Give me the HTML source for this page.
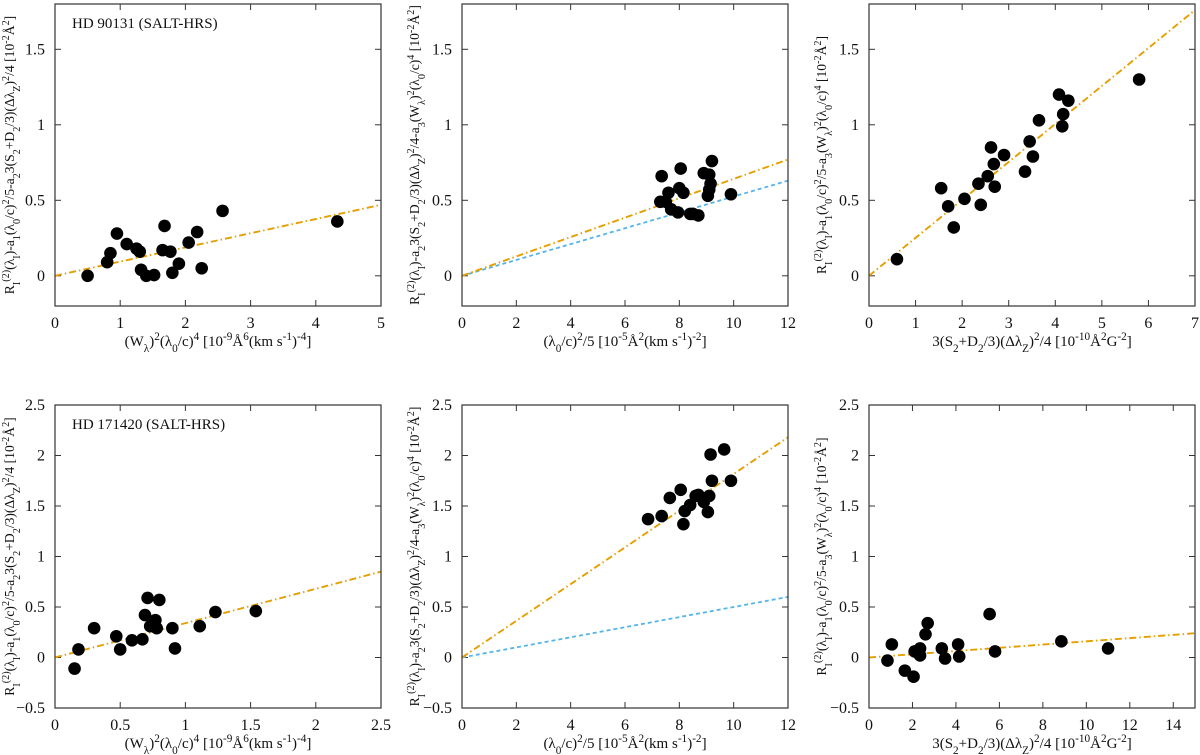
<!DOCTYPE html>
<html><head><meta charset="utf-8"><style>
html,body{margin:0;padding:0;background:#fff;}
svg{display:block;font-family:"Liberation Serif",serif;}
</style></head><body>
<svg id="fig" width="1200" height="755" viewBox="0 0 1200 755" xmlns="http://www.w3.org/2000/svg"></svg>
<script>
// ---- data ----
const p1X=[0.5,0.8,0.85,0.95,1.1,1.25,1.3,1.32,1.4,1.52,1.65,1.68,1.77,1.8,1.9,2.05,2.18,2.25,2.57,4.33];
const p1Y=[0,0.09,0.15,0.28,0.21,0.18,0.16,0.04,0,0.005,0.17,0.33,0.16,0.02,0.08,0.22,0.29,0.05,0.43,0.36];
const p2X=[7.3,7.35,7.5,7.6,7.7,7.95,8.0,8.05,8.15,8.4,8.5,8.7,8.9,9.1,9.05,9.1,9.15,9.2,9.9];
const p2Y=[0.49,0.66,0.49,0.55,0.44,0.42,0.58,0.71,0.55,0.41,0.41,0.4,0.68,0.67,0.53,0.57,0.61,0.76,0.54];
const p3X=[0.6,1.55,1.7,1.82,2.05,2.35,2.4,2.55,2.62,2.68,2.7,2.9,3.35,3.45,3.52,3.65,4.08,4.15,4.17,4.28,5.8];
const p3Y=[0.11,0.58,0.46,0.32,0.51,0.61,0.47,0.66,0.85,0.74,0.59,0.8,0.69,0.89,0.79,1.03,1.2,0.99,1.07,1.16,1.3];
const p4X=[0.15,0.18,0.3,0.47,0.5,0.59,0.67,0.69,0.71,0.73,0.77,0.78,0.8,0.9,0.92,1.11,1.23,1.54];
const p4Y=[-0.11,0.08,0.29,0.21,0.08,0.17,0.18,0.42,0.59,0.31,0.37,0.29,0.57,0.29,0.09,0.31,0.45,0.46];
const p5X=[6.85,7.35,7.65,8.05,8.15,8.2,8.4,8.6,8.7,8.9,9.05,9.1,9.15,9.2,9.65,9.9];
const p5Y=[1.37,1.4,1.58,1.66,1.32,1.45,1.51,1.6,1.61,1.54,1.44,1.6,2.01,1.75,2.06,1.75];
const p6X=[0.85,1.05,1.65,2.05,2.1,2.35,2.35,2.6,2.7,3.35,3.5,4.1,4.15,5.55,5.8,8.85,11.0];
const p6Y=[-0.03,0.13,-0.13,-0.19,0.06,0.09,0.02,0.23,0.34,0.09,-0.01,0.13,0.01,0.43,0.06,0.16,0.09];
const fitSlopes=[0.094,0.0642,0.2514,0.34,0.1817,0.016];
const blueSlopes=[null,0.0525,null,null,0.05,null];
const xTicksTop1=[0,1,2,3,4,5], xTicksTop2=[0,2,4,6,8,10,12], xTicksTop3=[0,1,2,3,4,5,6,7];
const xTicksBot1=[0,0.5,1,1.5,2,2.5], xTicksBot2=[0,2,4,6,8,10,12], xTicksBot3=[0,2,4,6,8,10,12,14];
const yTicksTop=[0,0.5,1,1.5], yTicksBot=[-0.5,0,0.5,1,1.5,2,2.5];

const NS="http://www.w3.org/2000/svg";
const svg=document.getElementById('fig');
function mk(tag,attrs,parent){const e=document.createElementNS(NS,tag);for(const k in attrs)e.setAttribute(k,attrs[k]);(parent||svg).appendChild(e);return e;}
function fmt(v){return (v<0?'\u2212':'')+String(Math.abs(v));}

const sub=s=>`<tspan baseline-shift="sub" font-size="75%">${s}</tspan>`;
const sup=s=>`<tspan baseline-shift="super" font-size="75%">${s}</tspan>`;
const lamI='\u03bb'+sub('I'), lam0='\u03bb'+sub('0'), Wl='W'+sub('\u03bb');
const R='R'+sub('I')+sup('(2)')+'('+lamI+')';
const ylabA=R+'-a'+sub('1')+'('+lam0+'/c)'+sup('2')+'/5-a'+sub('2')+'3(S'+sub('2')+'+D'+sub('2')+'/3)(\u0394\u03bb'+sub('Z')+')'+sup('2')+'/4 [10'+sup('-2')+'\u00c5'+sup('2')+']';
const ylabB=R+'-a'+sub('2')+'3(S'+sub('2')+'+D'+sub('2')+'/3)(\u0394\u03bb'+sub('Z')+')'+sup('2')+'/4-a'+sub('3')+'('+Wl+')'+sup('2')+'('+lam0+'/c)'+sup('4')+' [10'+sup('-2')+'\u00c5'+sup('2')+']';
const ylabC=R+'-a'+sub('1')+'('+lam0+'/c)'+sup('2')+'/5-a'+sub('3')+'('+Wl+')'+sup('2')+'('+lam0+'/c)'+sup('4')+' [10'+sup('-2')+'\u00c5'+sup('2')+']';
const xlabA='('+Wl+')'+sup('2')+'('+lam0+'/c)'+sup('4')+' [10'+sup('-9')+'\u00c5'+sup('6')+'(km s'+sup('-1')+')'+sup('-4')+']';
const xlabB='('+lam0+'/c)'+sup('2')+'/5 [10'+sup('-5')+'\u00c5'+sup('2')+'(km s'+sup('-1')+')'+sup('-2')+']';
const xlabC='3(S'+sub('2')+'+D'+sub('2')+'/3)(\u0394\u03bb'+sub('Z')+')'+sup('2')+'/4 [10'+sup('-10')+'\u00c5'+sup('2')+'G'+sup('-2')+']';

function panel(c){
  const g=mk('g',{});
  
  
  const sx=v=>c.L+(v-c.x0)/(c.x1-c.x0)*(c.R-c.L);
  const sy=v=>c.B-(v-c.y0)/(c.y1-c.y0)*(c.B-c.T);
  const clipId='clip-'+c.name;
  const cp=mk('clipPath',{id:clipId},g);
  mk('rect',{x:c.L,y:c.T,width:c.R-c.L,height:c.B-c.T},cp);
  c.xt.forEach(v=>{
    const x=sx(v);
    const t1=mk('line',{x1:x,x2:x,y1:c.B,y2:c.B-6,stroke:'#333','stroke-width':1},g);
    
    
    mk('line',{x1:x,x2:x,y1:c.T,y2:c.T+6,stroke:'#333','stroke-width':1},g);
    const tl=mk('text',{x:x,y:c.B+22,'text-anchor':'middle','font-size':16,fill:'#111'},g);
    tl.textContent=fmt(v);
    
    
  });
  c.yt.forEach(v=>{
    const y=sy(v);
    const t1=mk('line',{x1:c.L,x2:c.L+6,y1:y,y2:y,stroke:'#333','stroke-width':1},g);
    
    
    mk('line',{x1:c.R,x2:c.R-6,y1:y,y2:y,stroke:'#333','stroke-width':1},g);
    const tl=mk('text',{x:c.L-10,y:y+5,'text-anchor':'end','font-size':16,fill:'#111'},g);
    tl.textContent=fmt(v);
    
    
  });
  const pg=mk('g',{'clip-path':`url(#${clipId})`},g);
  if(c.blue!=null){
    const bl=mk('line',{x1:sx(0),y1:sy(0),x2:sx(c.x1),y2:sy(c.blue*c.x1),stroke:'#56b4e9','stroke-width':1.8,'stroke-dasharray':'4,3'},pg);
    
    
  }
  const fl=mk('line',{x1:sx(0),y1:sy(0),x2:sx(c.x1),y2:sy(c.slope*c.x1),stroke:'#e69f00','stroke-width':1.9,'stroke-dasharray':'7,3,1.5,3'},pg);
  
  
  c.X.forEach((xv,i)=>{
    const p=mk('circle',{cx:sx(xv),cy:sy(c.Y[i]),r:6.3,fill:'#000'},pg);
    
    
  });
  const fr=mk('rect',{x:c.L,y:c.T,width:c.R-c.L,height:c.B-c.T,fill:'none',stroke:'#333','stroke-width':1.2},g);
  
  
  const xl=mk('text',{x:(c.L+c.R)/2,y:c.B+40,'text-anchor':'middle','font-size':15,fill:'#111'},g);
  xl.innerHTML=c.xlab;
  
  
  const cy=(c.T+c.B)/2;
  const yl=mk('text',{x:0,y:0,'text-anchor':'middle','font-size':13.6,fill:'#111',transform:`translate(${c.ylx},${cy}) rotate(-90)`},g);
  yl.innerHTML=c.ylab;
  
  
  if(c.title){
    const tt=mk('text',{x:c.L+17,y:c.T+24,'font-size':15,fill:'#111'},g);
    tt.textContent=c.title;
    
    
  }
}
const TT=4,TB=306,BT=405,BB=708;
panel({name:'panel-hd90131-wl',L:55,R:381,T:TT,B:TB,x0:0,x1:5,y0:-0.2,y1:1.8,xt:xTicksTop1,yt:yTicksTop,X:p1X,Y:p1Y,slope:fitSlopes[0],blue:blueSlopes[0],xlab:xlabA,ylab:ylabA,ylx:14,title:'HD 90131 (SALT-HRS)'});
panel({name:'panel-hd90131-lam',L:462,R:788,T:TT,B:TB,x0:0,x1:12,y0:-0.2,y1:1.8,xt:xTicksTop2,yt:yTicksTop,X:p2X,Y:p2Y,slope:fitSlopes[1],blue:blueSlopes[1],xlab:xlabB,ylab:ylabB,ylx:419});
panel({name:'panel-hd90131-s2',L:869,R:1195,T:TT,B:TB,x0:0,x1:7,y0:-0.2,y1:1.8,xt:xTicksTop3,yt:yTicksTop,X:p3X,Y:p3Y,slope:fitSlopes[2],blue:blueSlopes[2],xlab:xlabC,ylab:ylabC,ylx:826});
panel({name:'panel-hd171420-wl',L:55,R:381,T:BT,B:BB,x0:0,x1:2.5,y0:-0.5,y1:2.5,xt:xTicksBot1,yt:yTicksBot,X:p4X,Y:p4Y,slope:fitSlopes[3],blue:blueSlopes[3],xlab:xlabA,ylab:ylabA,ylx:14,title:'HD 171420 (SALT-HRS)'});
panel({name:'panel-hd171420-lam',L:462,R:788,T:BT,B:BB,x0:0,x1:12,y0:-0.5,y1:2.5,xt:xTicksBot2,yt:yTicksBot,X:p5X,Y:p5Y,slope:fitSlopes[4],blue:blueSlopes[4],xlab:xlabB,ylab:ylabB,ylx:419});
panel({name:'panel-hd171420-s2',L:869,R:1195,T:BT,B:BB,x0:0,x1:15,y0:-0.5,y1:2.5,xt:xTicksBot3,yt:yTicksBot,X:p6X,Y:p6Y,slope:fitSlopes[5],blue:blueSlopes[5],xlab:xlabC,ylab:ylabC,ylx:826});
</script>
</body></html>
